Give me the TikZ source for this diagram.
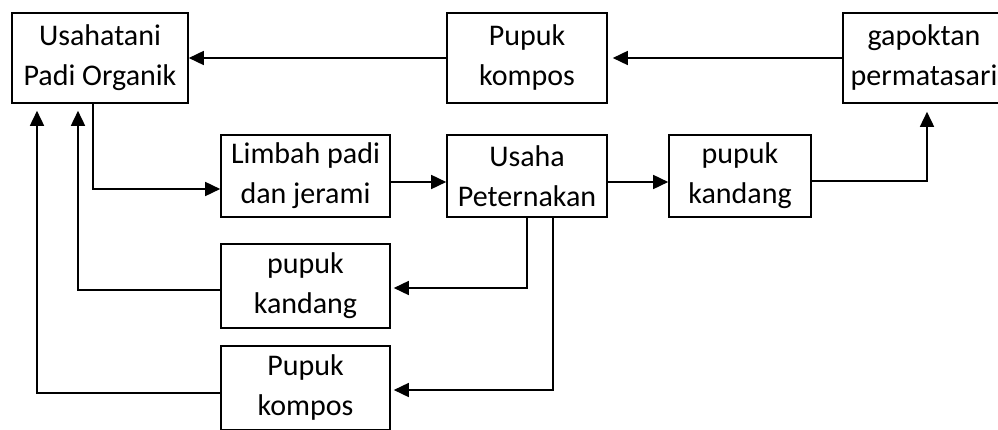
\documentclass[tikz,border=0pt]{standalone}
\usepackage{fontspec}
\setmainfont{Carlito}
\usetikzlibrary{arrows.meta}

\begin{document}
\begin{tikzpicture}[x=1pt, y=-1pt,
    box/.style={draw, line width=1.6pt, align=center, inner sep=0pt, font=\fontsize{30}{40}\selectfont},
    arr/.style={-{Triangle[length=15pt,width=14pt]}, line width=1.6pt}]
    \clip (0,0) rectangle (998,430);
    \node[box, minimum width=176pt, minimum height=90pt] (usahatani) at (100,58) {Usahatani\\Padi Organik};
    \node[box, minimum width=160pt, minimum height=90pt] (kompos) at (527,58) {Pupuk\\kompos};
    \node[box, minimum width=162pt, minimum height=90pt] (gapoktan) at (924,58) {gapoktan\\permatasari};
    \node[box, minimum width=169pt, minimum height=82pt] (limbah) at (305.5,176) {Limbah padi\\dan jerami};
    \node[box, minimum width=160pt, minimum height=82pt] (ternak) at (527,176) {Usaha\\Peternakan};
    \node[box, minimum width=142pt, minimum height=82pt] (kandang) at (740,176) {pupuk\\kandang};
    \node[box, minimum width=169pt, minimum height=84pt] (kandangB) at (305.5,286) {pupuk\\kandang};
    \node[box, minimum width=169pt, minimum height=84pt] (komposB) at (305.5,388) {Pupuk\\kompos};
    \draw[arr] (kompos) -- (usahatani);
    \draw[arr, shorten >=5pt] (gapoktan) -- (kompos);
    \draw[arr] (usahatani.south -| 93,0) |- ([yshift=-13pt]limbah.west);
    \draw[arr] ([yshift=-6pt]limbah.east) -- ([yshift=-6pt]ternak.west);
    \draw[arr] ([yshift=-6pt]ternak.east) -- ([yshift=-6pt]kandang.west);
    \draw[arr, shorten >=8pt] ([yshift=-5pt]kandang.east) -| ([xshift=3pt]gapoktan.south);
    \draw[arr, shorten >=3pt] (ternak.south -| 527,0) |- ([yshift=-2pt]kandangB.east);
    \draw[arr, shorten >=3pt] (ternak.south -| 553,0) |- ([yshift=-2pt]komposB.east);
    \draw[arr, shorten >=7pt] ([yshift=-4pt]kandangB.west) -| (usahatani.south -| 78,0);
    \draw[arr, shorten >=7pt] ([yshift=-5pt]komposB.west) -| (usahatani.south -| 37,0);
\end{tikzpicture}
\end{document}
